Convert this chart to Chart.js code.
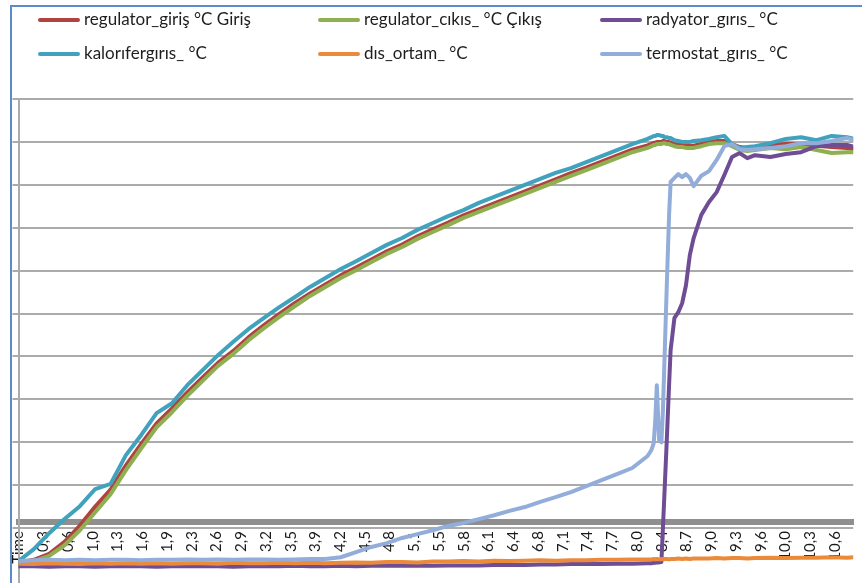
<!DOCTYPE html>
<html>
<head>
<meta charset="utf-8">
<title>Sıcaklık ölçümleri</title>
<script src="https://cdn.jsdelivr.net/npm/chart.js@4.4.1/dist/chart.umd.min.js"></script>
<style>
  html, body { margin: 0; padding: 0; background: #fff; }
  #wrap { position: relative; width: 862px; height: 583px; overflow: hidden; }
  #frame { position: absolute; left: 10px; top: 5px; width: 900px; height: 700px;
           border-left: 2px solid #5b8cc9; border-top: 2px solid #5b8cc9; }
  canvas { position: absolute; left: 0; top: 0; }
  .lg { position: absolute; font: 17px Lato, "Open Sans", sans-serif; color: #1e1e1e;
        white-space: nowrap; line-height: 20px; }
  .lg i { display: inline-block; width: 42px; height: 4px; border-radius: 2px;
          vertical-align: middle; margin-right: 4px; position: relative; top: -1px; }
</style>
</head>
<body>
<div id="wrap">
  <div id="frame"></div>
  <canvas id="c" width="862" height="583"></canvas>
  <div id="legend"></div>
</div>
<script>
// Sample times (hours)
const time = [0,0.2,0.4,0.6,0.8,1,1.2,1.4,1.6,1.8,2,2.2,2.4,2.6,2.8,3,3.2,3.4,3.6,3.8,4,
  4.2,4.4,4.6,4.8,5,5.2,5.4,5.6,5.8,6,6.2,6.4,6.6,6.8,7,7.2,7.4,7.6,7.8,8,8.2,
  8.25,8.28,8.3,8.32,8.35,8.38,8.4,8.42,8.45,8.48,8.5,8.55,8.6,8.65,8.7,8.75,8.8,
  8.9,9.0,9.1,9.2,9.3,9.4,9.5,9.6,
  9.8,10.0,10.2,10.4,10.6,10.8,10.9];

// Temperatures (°C)
const regulatorGiris = [-8.0,-7.4,-6.0,-3.2,0.6,5.0,9.0,14.6,19.6,24.4,27.9,31.6,35.1,38.5,41.3,44.5,47.3,49.9,52.4,54.7,56.8,
  58.9,60.7,62.6,64.5,66.1,68.0,69.6,71.2,72.9,74.3,75.7,77.1,78.5,79.9,81.3,82.7,84.0,85.4,86.8,88.2,89.2,
  89.5,89.8,89.8,90.0,90.0,90.0,90.2,90.2,90.0,90.0,89.8,89.5,89.3,89.3,89.1,89.1,89.1,
  89.5,90.0,90.2,90.2,89.5,88.8,88.6,88.8,
  89.3,89.5,89.5,89.1,88.8,88.6,88.3];

const regulatorCikis = [-8.2,-7.7,-6.5,-4.0,-0.5,3.7,7.9,13.5,18.6,23.5,27.0,30.8,34.3,37.8,40.6,43.8,46.6,49.2,51.7,54.1,56.2,
  58.3,60.1,62.0,63.9,65.5,67.4,69.0,70.6,72.3,73.7,75.1,76.5,77.9,79.3,80.7,82.1,83.4,84.8,86.2,87.6,88.6,
  89.0,89.3,89.3,89.5,89.5,89.5,89.7,89.7,89.5,89.5,89.3,89.0,88.8,88.8,88.6,88.6,88.6,
  89.0,89.5,89.7,89.7,89.0,88.1,87.9,88.1,
  88.6,88.3,88.8,88.1,87.4,87.6,87.6];

const radyatorGiris = [-8.9,-8.9,-9.0,-8.9,-8.9,-9.0,-8.9,-8.9,-8.9,-9.0,-8.9,-8.9,-8.9,-8.9,-9.0,-8.9,-8.9,-8.9,-8.8,-8.9,-8.9,
  -8.8,-8.9,-8.8,-8.8,-8.8,-8.7,-8.8,-8.7,-8.7,-8.7,-8.6,-8.6,-8.6,-8.5,-8.5,-8.4,-8.4,-8.4,-8.3,-8.3,-8.2,
  -8.2,-8.1,-8.1,-8.0,-8.0,-7.9,0.2,8.2,20.5,33.3,41.5,49.0,50.3,52.4,56.6,63.6,67.6,
  73.0,76.0,78.3,82.3,86.5,87.4,86.2,86.9,
  86.5,87.2,87.6,89.0,89.3,89.3,88.8];

const kaloriferGiris = [-7.7,-4.9,-1.2,2.1,5.1,9.1,10.3,17.0,21.7,26.8,29.1,33.3,36.8,40.3,43.4,46.4,49.0,51.5,53.8,56.2,58.3,
  60.4,62.2,64.1,66.0,67.6,69.5,71.1,72.7,74.1,75.8,77.2,78.6,80.0,81.4,82.8,83.9,85.3,86.7,88.1,89.5,90.7,
  91.1,91.4,91.4,91.6,91.6,91.4,91.4,91.1,91.1,90.9,90.9,90.4,90.2,90.0,90.0,90.0,90.2,
  90.4,90.7,91.1,91.4,89.5,88.6,88.8,89.0,
  89.7,90.7,91.1,90.4,91.4,91.1,90.7];

const disOrtam = [-8.3,-8.4,-8.2,-8.3,-8.4,-8.2,-8.3,-8.2,-8.3,-8.2,-8.3,-8.2,-8.2,-8.3,-8.1,-8.2,-8.2,-8.1,-8.2,-8.1,-8.2,
  -8.1,-8.0,-8.1,-7.9,-7.9,-8.0,-7.8,-7.8,-7.7,-7.8,-7.6,-7.7,-7.6,-7.5,-7.6,-7.5,-7.5,-7.4,-7.4,-7.3,-7.3,
  -7.3,-7.2,-7.3,-7.2,-7.3,-7.2,-7.3,-7.2,-7.2,-7.3,-7.2,-7.2,-7.1,-7.2,-7.1,-7.2,-7.1,
  -7.1,-7.1,-7.0,-7.1,-7.0,-7.0,-7.1,-7.0,
  -6.9,-7.0,-6.9,-6.9,-6.8,-6.9,-6.8];

const termostatGiris = [-7.7,-7.5,-7.4,-7.5,-7.4,-7.5,-7.4,-7.4,-7.5,-7.4,-7.4,-7.3,-7.4,-7.3,-7.4,-7.3,-7.3,-7.4,-7.3,-7.2,-7.2,
  -6.8,-5.6,-4.4,-3.5,-2.3,-1.4,-0.5,0.5,1.2,2.1,3.0,4.0,4.9,6.1,7.2,8.4,9.8,11.2,12.6,14.0,16.8,
  18.2,19.8,25.2,33.3,20.5,20.0,27.5,39.2,56.6,73.0,80.7,81.6,82.5,81.8,82.5,81.6,79.7,
  82.1,83.2,85.8,89.0,89.5,88.3,88.1,88.3,
  88.6,89.0,89.7,89.7,90.2,90.9,90.4];

// Category labels shown along the time axis (evenly spaced)
const tickLabels = ['Time','0,3','0,6','1,0','1,3','1,6','1,9','2,3','2,6','2,9','3,2','3,5','3,9',
  '4,2','4,5','4,8','5,1','5,5','5,8','6,1','6,4','6,8','7,1','7,4','7,7','8,0','8,4','8,7',
  '9,0','9,3','9,6','10,0','10,3','10,6'];
const TICK_STEP = 0.3225;           // hours between labelled categories
const yGrid = [0,10,20,30,40,50,60,70,80,90,100];

const series = [
  { label: 'regulator_giriş °C Giriş',  data: regulatorGiris, color: '#B0433F', order: 5 },
  { label: 'regulator_cıkıs_ °C Çıkış', data: regulatorCikis, color: '#8FB050', order: 4 },
  { label: 'radyator_gırıs_ °C',        data: radyatorGiris,  color: '#6E4D94', order: 3 },
  { label: 'kalorıfergırıs_ °C',        data: kaloriferGiris, color: '#40A2BD', order: 2 },
  { label: 'dıs_ortam_ °C',             data: disOrtam,       color: '#EA8A3A', order: 1 },
  { label: 'termostat_gırıs_ °C',       data: termostatGiris, color: '#92ADDA', order: 0 }
];

// Legend: three columns, two rows
const legendCols = [38, 318, 600];
const legendRows = [9, 43];
const legendEl = document.getElementById('legend');
series.forEach((s, i) => {
  const d = document.createElement('div');
  d.className = 'lg';
  d.style.left = legendCols[i % 3] + 'px';
  d.style.top = legendRows[Math.floor(i / 3)] + 'px';
  d.innerHTML = '<i style="background:' + s.color + '"></i>' + s.label;
  legendEl.appendChild(d);
});

new Chart(document.getElementById('c'), {
  type: 'line',
  data: {
    datasets: series.map(s => ({
      label: s.label,
      data: s.data.map((v, i) => ({ x: time[i], y: v })),
      borderColor: s.color,
      backgroundColor: s.color,
      borderWidth: 4,
      pointRadius: 0,
      tension: 0,
      borderJoinStyle: 'round',
      borderCapStyle: 'round',
      order: s.order
    }))
  },
  options: {
    responsive: false,
    animation: false,
    devicePixelRatio: 1,
    layout: { padding: { left: 10.5, top: 99, right: 0, bottom: 0 } },
    plugins: { legend: { display: false }, tooltip: { enabled: false } },
    scales: {
      x: {
        type: 'linear',
        min: 0,
        max: 10.88,
        position: { y: 1.4 },
        afterBuildTicks: s => { s.ticks = tickLabels.map((_, i) => ({ value: i * TICK_STEP })); },
        ticks: {
          autoSkip: false, maxRotation: 90, minRotation: 90, padding: 9,
          color: '#1a1a1a', font: { family: 'Lato', size: 15 },
          callback: (v, i) => tickLabels[i]
        },
        grid: { color: 'rgba(0,0,0,0)', drawTicks: false },
        border: { color: '#8f8f8f', width: 6 }
      },
      y: {
        min: -12.8,
        max: 100,
        afterBuildTicks: s => { s.ticks = yGrid.map(v => ({ value: v })); },
        afterFit: s => { s.width = 8; },
        ticks: { display: false },
        grid: { color: '#ababab', lineWidth: 2, tickLength: 6, drawTicks: true },
        border: { color: '#ababab', width: 2 }
      }
    }
  }
});
</script>
</body>
</html>
